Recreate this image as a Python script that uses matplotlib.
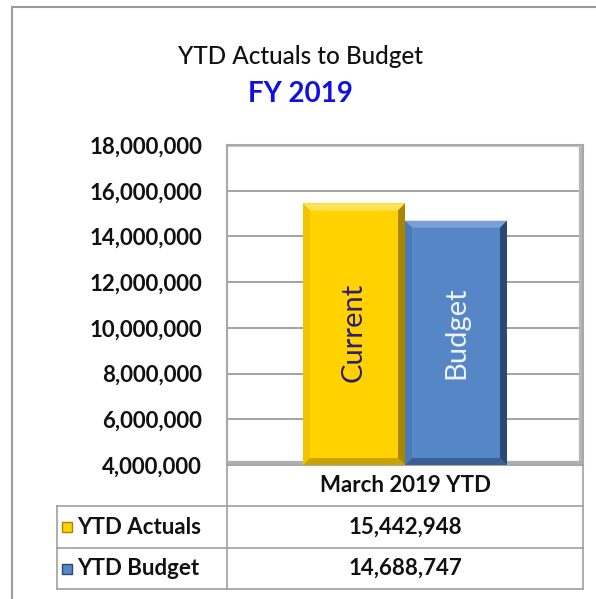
import numpy as np
import matplotlib
matplotlib.use('Agg')
from matplotlib import pyplot as plt
from matplotlib.patches import Polygon, Rectangle
from matplotlib.lines import Line2D

# chart data
category = 'March 2019 YTD'
series_names = ['YTD Actuals', 'YTD Budget']
bar_labels = ['Current', 'Budget']
values = [15442948, 14688747]
y_ticks = [4000000, 6000000, 8000000, 10000000, 12000000,
           14000000, 16000000, 18000000]

W, H = 596, 599
FONT = ['Lato', 'DejaVu Sans']
plt.rcParams['font.family'] = FONT

colors = [
    # main, top bevel, left bevel, right bevel, bottom bevel, text
    ('#FFD200', '#FFE25A', '#F2C400', '#A88600', '#C9A300', '#2E1F6B'),
    ('#5586C6', '#7AA0D4', '#4C7AB8', '#2A4A75', '#3A5F92', '#EEF2FA'),
]


def fx(x):
    return x / W


def fy(y):
    return 1 - y / H


fig = plt.figure(figsize=(W / 100, H / 100), dpi=100)

# outer chart border (top and left visible)
fig.add_artist(Line2D([fx(12), fx(W)], [fy(7), fy(7)], color='#9a9a9a', lw=1.5))
fig.add_artist(Line2D([fx(12), fx(12)], [fy(7), fy(H)], color='#9a9a9a', lw=1.5))

# titles
fig.text(fx(301), fy(57), 'YTD Actuals to Budget', ha='center', va='center',
         fontsize=17.5, color='#111111', fontweight='medium')
fig.text(fx(300), fy(94), 'FY 2019', ha='center', va='center',
         fontsize=20, color='#1010E0', fontweight='bold')

# plot area
left, right, top, bottom = 227, 583, 145, 465
ax = fig.add_axes([fx(left), fy(bottom), (right - left) / W, (bottom - top) / H])
ax.set_xlim(-0.5, 0.5)
ax.set_ylim(y_ticks[0], y_ticks[-1])
ax.set_yticks(y_ticks)
ax.set_yticklabels(['{:,}'.format(v) for v in y_ticks], fontsize=16,
                   fontweight='bold', color='#111111')
ax.tick_params(axis='y', length=0, pad=18)
ax.set_xticks([])
ax.grid(axis='y', color='#9c9c9c', lw=1.3)
ax.set_axisbelow(True)
for s in ax.spines.values():
    s.set_color('#a8a8a8')
    s.set_linewidth(1.5)

# 3d-ish inner frame shading
ax.axvline(0.5, color='#b8b8b8', lw=6, zorder=1)
ax.axvline(0.5, color='#808080', lw=1.5, zorder=1)
ax.axhline(y_ticks[0], color='#b0b0b0', lw=6, zorder=1)
ax.axhline(y_ticks[-1], color='#c8c8c8', lw=3, zorder=1)

# bars
group_width = 0.573
bar_w = group_width / len(values)
offsets = (np.arange(len(values)) - (len(values) - 1) / 2) * bar_w
bars = ax.bar(offsets, np.array(values) - y_ticks[0], bar_w, bottom=y_ticks[0],
              color=[c[0] for c in colors], zorder=3, linewidth=0)

# bevels in pixel sizes converted to data units
bev = 7
dx = bev / (right - left) * 1.0
dy = bev / (bottom - top) * (y_ticks[-1] - y_ticks[0])
for rect, col in zip(bars, colors):
    x0 = rect.get_x()
    x1 = x0 + rect.get_width()
    y0 = rect.get_y()
    y1 = y0 + rect.get_height()
    pieces = [
        ([(x0, y1), (x1, y1), (x1 - dx, y1 - dy), (x0 + dx, y1 - dy)], col[1]),
        ([(x0, y0), (x0, y1), (x0 + dx, y1 - dy), (x0 + dx, y0 + dy)], col[2]),
        ([(x1, y0), (x1, y1), (x1 - dx, y1 - dy), (x1 - dx, y0 + dy)], col[3]),
        ([(x0, y0), (x1, y0), (x1 - dx, y0 + dy), (x0 + dx, y0 + dy)], col[4]),
    ]
    for pts, c in pieces:
        ax.add_patch(Polygon(pts, closed=True, facecolor=c, edgecolor='none',
                             zorder=4))

for rect, lab, col in zip(bars, bar_labels, colors):
    ax.text(rect.get_x() + rect.get_width() / 2, 9.8e6, lab, rotation=90,
            ha='center', va='center', fontsize=21, color=col[5], zorder=5)

# data table below the plot
tcol = '#a0a0a0'
t_left, t_div, t_right = 57, left, right
rows_y = [bottom, 506, 548, 589]
for y in rows_y[1:]:
    fig.add_artist(Line2D([fx(t_left), fx(t_right)], [fy(y), fy(y)],
                          color=tcol, lw=1.2))
fig.add_artist(Line2D([fx(t_left), fx(t_left)], [fy(rows_y[1]), fy(rows_y[3])],
                      color=tcol, lw=1.2))
for x in (t_div, t_right):
    fig.add_artist(Line2D([fx(x), fx(x)], [fy(rows_y[0]), fy(rows_y[3])],
                          color=tcol, lw=1.2))

mid_x = (t_div + t_right) / 2
fig.text(fx(mid_x), fy((rows_y[0] + rows_y[1]) / 2), category, ha='center',
         va='center', fontsize=16, fontweight='bold', color='#111111')
for i, (name, v, col) in enumerate(zip(series_names, values, colors)):
    yc = (rows_y[i + 1] + rows_y[i + 2]) / 2
    fig.add_artist(Rectangle((fx(62), fy(yc + 5)), 10 / W, 10 / H,
                             facecolor=col[0], edgecolor=col[3], lw=1.0))
    fig.text(fx(77), fy(yc), name, ha='left', va='center', fontsize=16,
             fontweight='bold', color='#111111')
    fig.text(fx(mid_x), fy(yc), '{:,}'.format(v), ha='center', va='center',
             fontsize=16, fontweight='bold', color='#111111')

fig.savefig('out.png', dpi=100)
